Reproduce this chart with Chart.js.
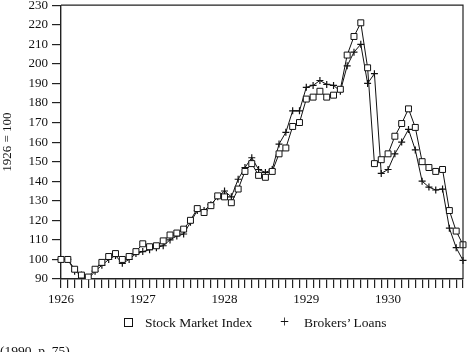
<!DOCTYPE html>
<html>
<head>
<meta charset="utf-8">
<script src="https://cdn.jsdelivr.net/npm/chart.js@4.4.0/dist/chart.umd.min.js"></script>
<style>
  html, body { margin: 0; padding: 0; background: #fff; width: 475px; height: 352px; overflow: hidden; }
  #wrap { position: relative; width: 475px; height: 352px; font-family: "Liberation Serif", "DejaVu Serif", serif; color: #111; }
  canvas { position: absolute; left: 0; top: 0; }
  .lg { position: absolute; font-size: 13.5px; line-height: 16px; white-space: nowrap; }
  .sq { position: absolute; width: 7px; height: 7px; border: 1.2px solid #111; background: #fff; }
  #src { position: absolute; left: 0px; top: 343px; font-size: 13.5px; line-height: 16px; white-space: nowrap; }
</style>
</head>
<body>
<div id="wrap">
  <canvas id="c" width="475" height="352"></canvas>
  <div class="sq" style="left:124px; top:318px;"></div>
  <div class="lg" style="left:145px; top:315px;">Stock Market Index</div>
  <div class="lg" style="left:280px; top:314px; font-size:16px;">+</div>
  <div class="lg" style="left:304px; top:315px;">Brokers’ Loans</div>
  <div id="src">(1990, p. 75)</div>
</div>
<script>
// Categories: monthly, Jan 1926 - Dec 1930
const years = ["1926", "1927", "1928", "1929", "1930"];
const months = [];
years.forEach(y => { for (let m = 0; m < 12; m++) months.push(m === 0 ? y : ""); });

// Stock Market Index (1926 = 100)
const stockIndex = [
  100, 100, 95, 92, 91, 95, 98.5, 101.5, 103, 100, 101.5, 104,
  108, 106.5, 107, 109.5, 112.5, 113.5, 115.5, 120, 126, 124, 127.5, 132.5,
  132, 129, 136, 145, 149, 143, 142, 145, 154, 157, 168, 170,
  182, 183, 186, 183, 184, 187, 204.5, 214, 221, 198, 149, 151,
  154, 163, 169.5, 177, 167.5, 150, 147, 145, 146, 125, 114.5, 107.5
];

// Brokers' Loans (1926 = 100)
const brokersLoans = [
  100, 100, 94, 92, 90, 94, 97, 100, 102, 98, 100, 103,
  104, 105, 106, 107, 110, 112, 113, 119, 125, 125, 128, 132,
  135, 132, 141, 147, 152, 146, 144.5, 146, 159, 165, 176, 176,
  188, 189, 191.5, 189.5, 189, 186, 199, 206, 210, 190, 195, 144,
  146, 154, 160, 166.5, 156, 140, 137, 135.5, 136, 116, 106, 99.5
];

// Y tick range
const yMin = 90, yMax = 230, yStep = 10;

const FONT = "'Liberation Serif', 'DejaVu Serif', serif";

const frame = {
  id: 'frame',
  afterDraw(chart) {
    const a = chart.chartArea, ctx = chart.ctx;
    ctx.save();
    ctx.strokeStyle = '#222';
    ctx.lineWidth = 1.2;
    ctx.beginPath();
    ctx.moveTo(a.left, a.top);
    ctx.lineTo(a.right, a.top);
    ctx.lineTo(a.right, a.bottom);
    ctx.stroke();
    ctx.restore();
  }
};

new Chart(document.getElementById('c'), {
  type: 'line',
  data: {
    labels: months,
    datasets: [
      {
        label: 'Stock Market Index',
        data: stockIndex,
        borderColor: '#111',
        borderWidth: 1,
        pointStyle: 'rect',
        pointRadius: 4.2,
        pointBackgroundColor: '#fff',
        pointBorderColor: '#111',
        pointBorderWidth: 1,
        tension: 0,
        fill: false
      },
      {
        label: "Brokers' Loans",
        data: brokersLoans,
        borderColor: '#111',
        borderWidth: 1,
        pointStyle: 'cross',
        pointRadius: 3.5,
        pointBorderColor: '#111',
        pointBorderWidth: 1.2,
        tension: 0,
        fill: false
      }
    ]
  },
  options: {
    responsive: false,
    animation: false,
    events: [],
    layout: { padding: { left: 0, right: 12, top: 3, bottom: 38 } },
    plugins: { legend: { display: false }, tooltip: { enabled: false } },
    scales: {
      x: {
        type: 'category',
        offset: false,
        grid: { drawOnChartArea: false, drawTicks: true, tickLength: 9, color: '#222', lineWidth: 1.2 },
        border: { display: true, color: '#222', width: 1.4 },
        ticks: {
          autoSkip: false, maxRotation: 0, minRotation: 0, padding: 4,
          color: '#111', font: { family: FONT, size: 13 },
          callback: function(v, i) { return months[i]; }
        },
        afterFit: function(s) { s.height = 35; s.paddingLeft = 0; s.paddingRight = 0; }
      },
      y: {
        min: yMin, max: yMax,
        grid: { drawOnChartArea: false, drawTicks: true, tickLength: 9, color: '#222', lineWidth: 1.2 },
        border: { display: true, color: '#222', width: 1.4 },
        ticks: { stepSize: yStep, padding: 4, color: '#111', font: { family: FONT, size: 13 } },
        title: { display: true, text: '1926 = 100', color: '#111', font: { family: FONT, size: 13 }, padding: { top: 0, bottom: 0 } },
        afterFit: function(s) { s.width = 61; s.paddingTop = 0; s.paddingBottom = 0; }
      }
    }
  },
  plugins: [frame]
});
</script>
</body>
</html>
